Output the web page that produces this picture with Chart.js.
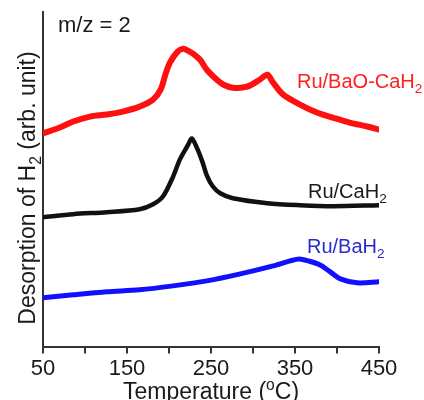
<!DOCTYPE html>
<html>
<head>
<meta charset="utf-8">
<script src="https://cdn.jsdelivr.net/npm/chart.js@4"></script>
<style>
  html, body { margin: 0; padding: 0; background: #fff; }
</style>
</head>
<body>
<canvas id="tpdChart" width="424" height="400"></canvas>
<script>
// temperatures (°C) and H2 signal (arb. unit)
const tempRed = [50, 70, 86, 106, 126, 145, 165, 181, 190, 196, 201, 210, 217, 223, 229, 237, 245, 257, 265, 276, 293, 308, 317, 324, 336, 356, 376, 395, 415, 436, 450];
const sigRed = [214, 220, 226, 231, 233, 236, 241, 248, 258, 274, 285, 296, 299, 297, 294, 288, 278, 268, 263, 260, 261, 268, 273, 265, 253, 243, 235, 230, 225, 221, 218];

const tempBlack = [50, 86, 126, 165, 181, 193, 205, 213, 223, 227, 233, 240, 245, 252, 261, 276, 317, 356, 395, 450];
const sigBlack = [130, 133, 135, 138, 143, 151, 171, 188, 203, 209, 200, 185, 172, 161, 154, 149, 144, 142, 141, 142];

const tempBlue = [50, 86, 126, 165, 205, 245, 285, 324, 344, 355, 366, 380, 392, 404, 424, 450];
const sigBlue = [49, 52, 55, 57, 61, 66, 73, 81, 86, 88, 86, 82, 75, 68, 64, 65];

const xTicks = [50, 150, 250, 350, 450];

function pts(xs, ys) {
    return xs.map((x, i) => ({ x: x, y: ys[i] }));
}

const FONT = '"Liberation Sans", Arial, sans-serif';

// text with a sub- or superscript part
function drawScript(ctx, parts, x, y, size, align) {
    let total = 0;
    parts.forEach(p => {
        ctx.font = (p.s ? size * 0.68 : size) + 'px ' + FONT;
        p.w = ctx.measureText(p.t).width;
        total += p.w;
    });
    let cx = align === 'center' ? x - total / 2 : x;
    parts.forEach(p => {
        ctx.font = (p.s ? size * 0.68 : size) + 'px ' + FONT;
        let dy = 0;
        if (p.s === 'sub') dy = size * 0.25;
        if (p.s === 'sup') dy = -size * 0.38;
        ctx.fillText(p.t, cx, y + dy);
        cx += p.w;
    });
}

const labelPlugin = {
    id: 'labels',
    afterDraw(chart) {
        const ctx = chart.ctx;
        const a = chart.chartArea;
        ctx.save();
        ctx.textAlign = 'left';
        ctx.textBaseline = 'alphabetic';

        ctx.fillStyle = '#1a1a1a';
        drawScript(ctx, [{ t: 'm/z = 2' }], a.left + 15, 32, 22, 'left');

        ctx.fillStyle = '#ff2020';
        drawScript(ctx, [{ t: 'Ru/BaO-CaH' }, { t: '2', s: 'sub' }], 297, 88, 20, 'left');
        ctx.fillStyle = '#1a1a1a';
        drawScript(ctx, [{ t: 'Ru/CaH' }, { t: '2', s: 'sub' }], 308, 198, 20, 'left');
        ctx.fillStyle = '#2a2ad0';
        drawScript(ctx, [{ t: 'Ru/BaH' }, { t: '2', s: 'sub' }], 307, 253, 20, 'left');

        // axis titles
        ctx.fillStyle = '#1a1a1a';
        drawScript(ctx, [{ t: 'Temperature (' }, { t: 'o', s: 'sup' }, { t: 'C)' }], (a.left + a.right) / 2, 399, 23, 'center');

        ctx.translate(35, 188);
        ctx.rotate(-Math.PI / 2);
        drawScript(ctx, [{ t: 'Desorption of H' }, { t: '2', s: 'sub' }, { t: ' (arb. unit)' }], 0, 0, 23, 'center');
        ctx.restore();
    }
};

const ctx = document.getElementById('tpdChart').getContext('2d');

const data = {
    datasets: [{
        label: 'Ru/BaO-CaH2',
        data: pts(tempRed, sigRed),
        borderColor: '#ff1010',
        borderWidth: 6,
    }, {
        label: 'Ru/CaH2',
        data: pts(tempBlack, sigBlack),
        borderColor: '#111111',
        borderWidth: 4.5,
    }, {
        label: 'Ru/BaH2',
        data: pts(tempBlue, sigBlue),
        borderColor: '#1010ff',
        borderWidth: 5,
    }],
};

const config = {
    type: 'line',
    data: data,
    options: {
        responsive: false,
        animation: false,
        layout: { padding: { left: 43, right: 45, top: 12, bottom: 16 } },
        elements: {
            point: { radius: 0 },
            line: { tension: 0.3, fill: false, borderJoinStyle: 'round', borderCapStyle: 'round' },
        },
        plugins: {
            legend: { display: false },
            tooltip: { enabled: false },
        },
        scales: {
            x: {
                type: 'linear',
                min: 50,
                max: 450,
                ticks: {
                    stepSize: 50,
                    padding: 2,
                    color: '#1a1a1a',
                    font: { family: FONT, size: 22 },
                    maxRotation: 0,
                    autoSkip: false,
                    callback: v => xTicks.includes(v) ? v : '',
                },
                grid: { drawOnChartArea: false, drawTicks: true, tickLength: 7, color: '#333', lineWidth: 2 },
                border: { display: true, color: '#333', width: 2 },
            },
            y: {
                min: 0,
                max: 336,
                ticks: { display: false },
                grid: { drawOnChartArea: false, drawTicks: false },
                border: { display: true, color: '#333', width: 2 },
            },
        },
    },
    plugins: [labelPlugin],
};

const tpdChart = new Chart(ctx, config);
</script>
</body>
</html>
